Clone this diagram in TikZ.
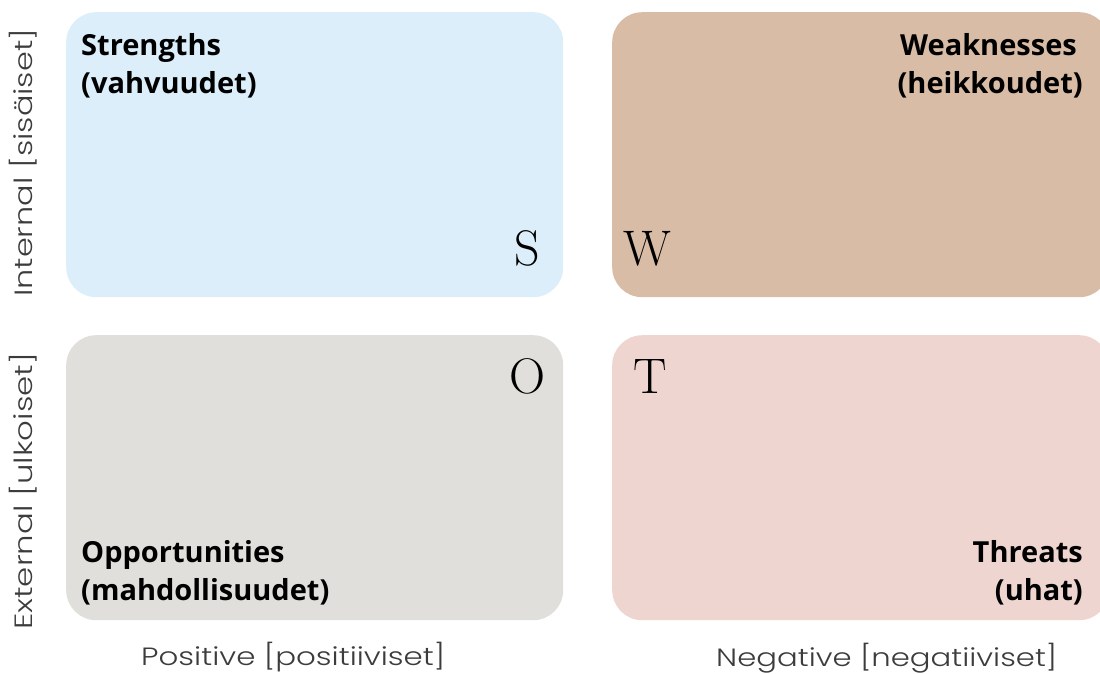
\documentclass[tikz,border=0pt]{standalone}
\usepackage{fontspec}
\usepackage{graphicx}
\newfontfamily\labelfont{Open Sans}
\newfontfamily\axisfont{Poppins Light}
\definecolor{sblue}{RGB}{220,238,249}
\definecolor{wtan}{RGB}{217,188,165}
\definecolor{ogrey}{RGB}{224,223,219}
\definecolor{tpink}{RGB}{239,213,208}
\definecolor{axisgrey}{RGB}{60,60,60}
\tikzset{
  quad/.style={rectangle, rounded corners=30pt, draw=none, minimum width=497pt, minimum height=285pt, inner sep=0pt, anchor=north west},
  title/.style={font=\labelfont\bfseries\fontsize{29}{38}\selectfont, inner sep=0pt, text=black},
  letter/.style={font=\fontsize{50}{50}\selectfont, inner sep=0pt, anchor=base, text=black},
  axis/.style={font=\axisfont\fontsize{25}{25}\selectfont, inner sep=0pt, text=axisgrey},
}
\begin{document}
\begin{tikzpicture}[x=1pt,y=-1pt]
\useasboundingbox (0,0) rectangle (1100,673);
\clip (0,0) rectangle (1100,673);
% quadrants
\node[quad, fill=sblue] (boxS) at (66,12) {};
\node[quad, fill=wtan] (boxW) at (612,12) {};
\node[quad, fill=ogrey] (boxO) at (66,335) {};
\node[quad, fill=tpink] (boxT) at (612,335) {};
% titles
\node[title, anchor=base west] (s1) at (81,55) {Strengths};
\node[title, anchor=base west] (s2) at (81,93) {(vahvuudet)};
\node[title, anchor=base east] (w1) at (1077,55) {Weaknesses};
\node[title, anchor=base east] (w2) at (1083,93) {(heikkoudet)};
\node[title, anchor=base west] (o1) at (81,562) {Opportunities};
\node[title, anchor=base west] (o2) at (81,600) {(mahdollisuudet)};
\node[title, anchor=base east] (t1) at (1083,562) {Threats};
\node[title, anchor=base east] (t2) at (1083,600) {(uhat)};
% letters
\node[letter] (lS) at (527,265) {S};
\node[letter] (lW) at (647,265) {W};
\node[letter] (lO) at (527,393) {O};
\node[letter] (lT) at (650,393) {T};
% axis labels
\node[axis, anchor=base west] (pos) at (141,665) {\resizebox{304pt}{\height}{Positive [positiiviset]}};
\node[axis, anchor=base west] (neg) at (716,666) {\resizebox{341pt}{\height}{Negative [negatiiviset]}};
\node[axis, rotate=90, anchor=base west] (int) at (33,297) {\resizebox{268pt}{\height}{Internal [sisäiset]}};
\node[axis, rotate=90, anchor=base west] (ext) at (32,630) {\resizebox{277pt}{\height}{External [ulkoiset]}};
\end{tikzpicture}
\end{document}
